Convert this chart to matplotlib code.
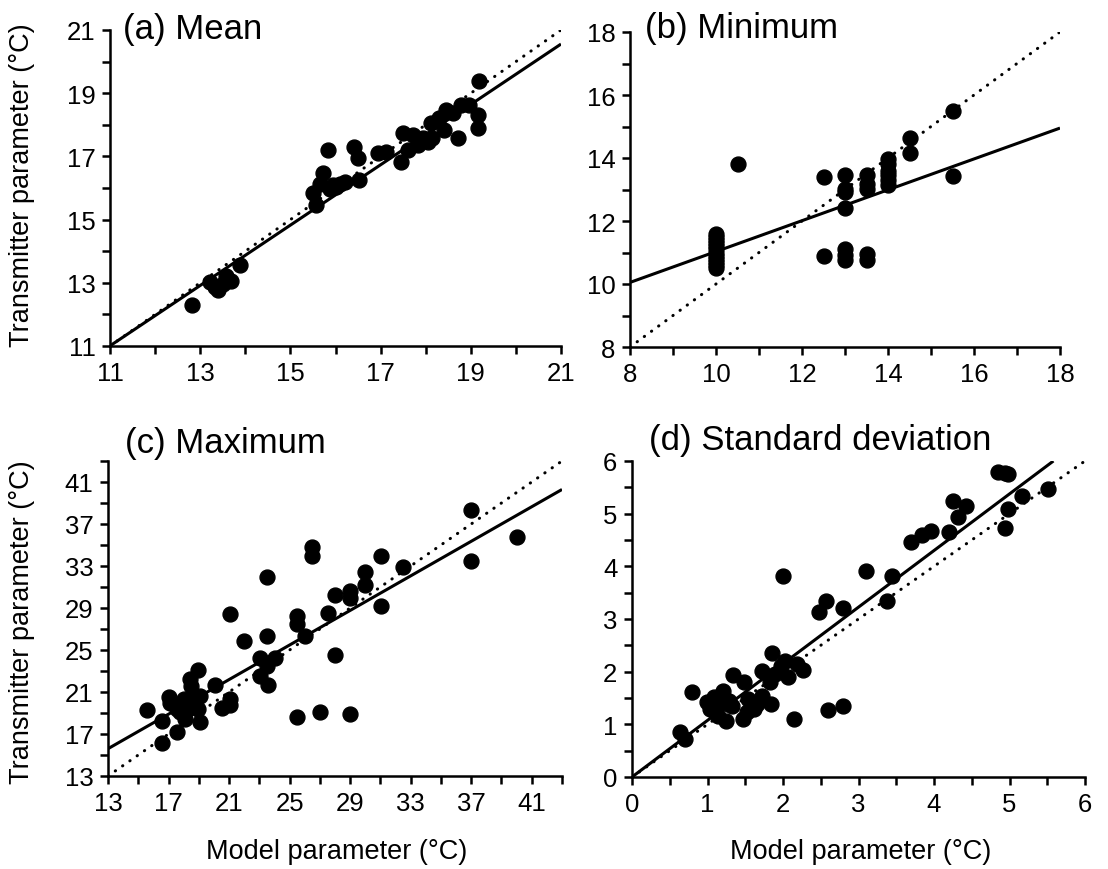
import matplotlib.pyplot as plt
import numpy as np

plt.rcParams['font.family'] = ['Liberation Sans', 'DejaVu Sans']

# (a) Mean
mean_model = [12.81, 13.21, 13.32, 13.40, 13.50, 13.58, 13.69, 13.88,
              15.57, 15.50, 15.65, 15.73, 15.83, 15.87, 15.94, 16.01, 16.09, 16.20,
              16.42, 16.49, 16.53, 16.94, 17.12, 17.45, 17.49, 17.60, 17.71, 17.82,
              17.93, 18.04, 18.12, 18.15, 18.30, 18.41, 18.45, 18.60, 18.71, 18.78,
              18.96, 19.15, 19.15, 19.19]
mean_trans = [12.30, 13.02, 12.86, 12.76, 12.95, 13.23, 13.07, 13.55,
              15.45, 15.83, 16.14, 16.46, 17.20, 15.98, 16.09, 16.04, 16.14, 16.20,
              17.31, 16.94, 16.25, 17.10, 17.15, 16.83, 17.73, 17.20, 17.68, 17.36,
              17.57, 17.47, 18.05, 17.57, 18.20, 17.84, 18.47, 18.36, 17.57, 18.63,
              18.63, 18.31, 17.89, 19.39]

# (b) Minimum
min_model = [10.0] * 12 + [10.5, 12.5, 12.5, 13.0, 13.0, 13.0, 13.0, 13.0, 13.0, 13.0,
                           13.5, 13.5, 13.5, 13.5, 13.5,
                           14.0, 14.0, 14.0, 14.0, 14.0, 14.0, 14.5, 14.5, 15.5, 15.5]
min_trans = [10.5, 10.6, 10.7, 10.8, 10.9, 11.0, 11.1, 11.2, 11.3, 11.4, 11.5, 11.6,
             13.8, 13.4, 10.88, 13.45, 13.03, 12.92, 12.42, 11.12, 10.91, 10.75,
             13.45, 13.19, 13.03, 10.96, 10.75,
             13.98, 13.8, 13.6, 13.45, 13.3, 13.15, 14.63, 14.16, 15.48, 13.42]

# (c) Maximum
max_model = [15.56, 16.55, 16.55, 17.04, 17.10, 17.55, 17.55, 17.77, 17.99, 18.10,
             18.30, 18.40, 18.50, 18.62, 18.96, 18.96, 19.06, 19.06, 20.05, 20.50,
             21.05, 21.05, 21.05, 22.00, 23.04, 23.04, 23.48, 23.48, 23.48, 23.59,
             24.03, 25.51, 25.51, 25.51, 26.02, 26.47, 26.47, 27.02, 27.51, 28.01,
             28.01, 29.00, 29.00, 29.00, 30.00, 30.00, 31.06, 31.06, 32.50, 37.00,
             37.00, 40.00]
max_trans = [19.29, 18.27, 16.14, 20.49, 20.00, 19.38, 17.22, 19.06, 20.33, 18.43,
             19.38, 22.24, 21.60, 20.65, 23.10, 19.38, 18.11, 20.65, 21.67, 19.44,
             20.33, 19.76, 28.43, 25.89, 24.24, 22.49, 31.92, 26.30, 23.51, 21.67,
             24.21, 28.27, 27.48, 18.59, 26.37, 34.78, 33.92, 19.13, 28.52, 30.24,
             24.52, 30.59, 29.92, 18.90, 32.40, 31.22, 33.92, 29.16, 32.94, 38.33,
             33.50, 35.73]

# (d) Standard deviation
sd_model = [0.64, 0.70, 0.79, 0.99, 1.03, 1.08, 1.10, 1.14, 1.17, 1.19, 1.21, 1.25,
            1.28, 1.32, 1.34, 1.47, 1.48, 1.52, 1.54, 1.61, 1.65, 1.72, 1.72, 1.83,
            1.84, 1.85, 1.89, 1.98, 2.00, 2.03, 2.07, 2.14, 2.18, 2.26, 2.48, 2.57,
            2.59, 2.79, 2.79, 3.10, 3.38, 3.44, 3.70, 3.84, 3.96, 4.20, 4.25, 4.32,
            4.43, 4.85, 4.94, 4.98, 4.94, 4.98, 5.16, 5.51]
sd_trans = [0.85, 0.72, 1.61, 1.43, 1.29, 1.51, 1.23, 1.16, 1.38, 1.51, 1.64, 1.07,
            1.45, 1.35, 1.94, 1.10, 1.80, 1.23, 1.48, 1.29, 1.38, 1.53, 2.02, 1.80,
            1.38, 2.36, 1.95, 2.11, 3.82, 2.21, 1.90, 1.11, 2.14, 2.04, 3.14, 3.34,
            1.28, 3.20, 1.34, 3.91, 3.34, 3.82, 4.47, 4.59, 4.68, 4.66, 5.24, 4.94,
            5.15, 5.79, 5.78, 5.76, 4.72, 5.08, 5.34, 5.46]

# regression fits (slope, intercept)
fits = [(0.955, 0.5), (0.49, 6.13), (0.823, 4.9), (1.075, 0.0)]

titles = ['(a) Mean', '(b) Minimum', '(c) Maximum', '(d) Standard deviation']
limits = [(11, 21), (8, 18), (13, 43), (0, 6)]
major = [np.arange(11, 22, 2), np.arange(8, 19, 2), np.arange(13, 42, 4), np.arange(0, 7, 1)]
minor = [np.arange(11, 22, 1), np.arange(8, 19, 1), np.arange(13, 44, 2), np.arange(0, 6.1, 0.5)]
xs = [mean_model, min_model, max_model, sd_model]
ys = [mean_trans, min_trans, max_trans, sd_trans]

W, H = 1108, 870
fig = plt.figure(figsize=(W / 100, H / 100), dpi=100)
boxes = [(110, 561, 31, 347), (630, 1060, 33, 348), (108, 562, 462, 777), (632, 1085, 462, 778)]
title_pos = [(0.029, 0.975), (0.035, 0.984), (0.037, 1.029), (0.038, 1.038)]

for i in range(4):
    l, r, t, b = boxes[i]
    ax = fig.add_axes([l / W, 1 - b / H, (r - l) / W, (b - t) / H])
    lo, hi = limits[i]
    ax.set_xlim(lo, hi)
    ax.set_ylim(lo, hi)
    # 1:1 line
    ax.plot([lo, hi], [lo, hi], color='black', lw=2.2, linestyle=(0, (0.1, 2.8)),
            dash_capstyle='round')
    # regression line
    m, c = fits[i]
    xl = np.array([lo, min(hi, (hi - c) / m)])
    ax.plot(xl, m * xl + c, color='black', lw=2.2, solid_capstyle='butt')
    ax.scatter(xs[i], ys[i], s=115, color='black', zorder=3, clip_on=False)

    for side in ['top', 'right']:
        ax.spines[side].set_visible(False)
    for side in ['left', 'bottom']:
        ax.spines[side].set_linewidth(1.8)
    ax.set_xticks(major[i])
    ax.set_yticks(major[i])
    ax.set_xticks(minor[i], minor=True)
    ax.set_yticks(minor[i], minor=True)
    ax.set_xticklabels([f'{v:g}' for v in major[i]])
    ax.set_yticklabels([f'{v:g}' for v in major[i]])
    ax.tick_params(which='both', direction='out', length=5.5, width=1.8,
                   labelsize=18.5, color='black')
    ax.tick_params(axis='x', pad=5)
    ax.tick_params(axis='y', pad=5)
    ax.text(title_pos[i][0], title_pos[i][1], titles[i], transform=ax.transAxes,
            fontsize=25, va='baseline', ha='left')

fig.text(22 / W, 1 - 185 / H, 'Transmitter parameter (°C)', rotation=90,
         ha='center', va='center', fontsize=19.5)
fig.text(22 / W, 1 - 622 / H, 'Transmitter parameter (°C)', rotation=90,
         ha='center', va='center', fontsize=19.5)
fig.text(337 / W, 1 - 852 / H, 'Model parameter (°C)', ha='center', va='center',
         fontsize=19.5)
fig.text(861 / W, 1 - 852 / H, 'Model parameter (°C)', ha='center', va='center',
         fontsize=19.5)

fig.savefig('out.png', dpi=100)
